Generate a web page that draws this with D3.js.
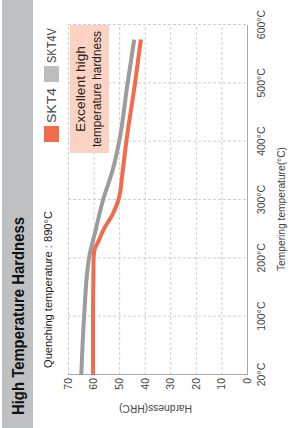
<!DOCTYPE html>
<html>
<head>
<meta charset="utf-8">
<script src="https://cdn.jsdelivr.net/npm/d3@7"></script>
<style>
  body { margin: 0; background: #fff; }
  svg { display: block; font-family: "Liberation Sans", Arial, sans-serif; }
</style>
</head>
<body>
<div id="chart"></div>
<script>
// values
var temps = [20, 100, 200, 300, 400, 500, 600];
var hardTicks = [0, 10, 20, 30, 40, 50, 60, 70];
var skt4Temp = [20, 100, 200, 215, 230, 250, 275, 300, 350, 400, 500, 575];
var skt4Hrc = [60.2, 60.2, 60, 59.6, 58, 56, 52.6, 50.3, 48.6, 47.2, 43.8, 41.5];
var skt4vTemp = [20, 100, 200, 250, 300, 350, 400, 500, 575];
var skt4vHrc = [64.8, 63.7, 61.8, 59.1, 56.3, 52.6, 50, 46.7, 44.1];
var seriesNames = ["SKT4", "SKT4V"];
var seriesColors = ["#f26b4b", "#9c9c9c"];
var legendColors = ["#f26b4b", "#bdbdbd"];

var W = 428, H = 291; // chart drawn sideways, then turned
var plotLeft = 53, plotRight = 403, plotTop = 68, plotBottom = 247;

var svg = d3.select("#chart").append("svg")
    .attr("width", H)
    .attr("height", W);

var g = svg.append("g")
    .attr("transform", "translate(0," + W + ") rotate(-90)");

// title band
g.append("rect")
    .attr("x", 0).attr("y", 2)
    .attr("width", W).attr("height", 31)
    .attr("fill", "#bfc0c2");

g.append("text")
    .attr("x", 13).attr("y", 24)
    .attr("font-size", 16).attr("font-weight", "bold")
    .attr("fill", "#111")
    .attr("textLength", 198).attr("lengthAdjust", "spacingAndGlyphs")
    .text("High Temperature Hardness");

g.append("text")
    .attr("x", 60).attr("y", 51.5)
    .attr("font-size", 11).attr("fill", "#222")
    .attr("textLength", 157).attr("lengthAdjust", "spacingAndGlyphs")
    .text("Quenching temperature : 890°C");

// scales: temperature steps are evenly spaced
var step = (plotRight - plotLeft) / (temps.length - 1);
var x = d3.scaleLinear()
    .domain(temps)
    .range(temps.map(function (d, i) { return plotLeft + i * step; }));
var y = d3.scaleLinear().domain([0, 70]).range([plotBottom, plotTop]);

// grid
var grid = g.append("g")
    .attr("stroke", "#cfcfcf")
    .attr("stroke-dasharray", "3,2")
    .attr("stroke-width", 1);

grid.selectAll("line.h").data(hardTicks.filter(function (d) { return d > 0; }))
    .enter().append("line")
    .attr("class", "h")
    .attr("x1", plotLeft).attr("x2", plotRight)
    .attr("y1", function (d) { return y(d) + 0.5; })
    .attr("y2", function (d) { return y(d) + 0.5; });

grid.selectAll("line.v").data(temps.slice(1))
    .enter().append("line")
    .attr("class", "v")
    .attr("x1", function (d) { return x(d) + 0.5; })
    .attr("x2", function (d) { return x(d) + 0.5; })
    .attr("y1", plotTop).attr("y2", plotBottom);

// annotation box
g.append("rect")
    .attr("x", 275).attr("y", 70)
    .attr("width", 128).attr("height", 39)
    .attr("fill", "#fcd2c2");

g.append("text")
    .attr("x", 339).attr("y", 85)
    .attr("text-anchor", "middle")
    .attr("font-size", 12.5).attr("fill", "#222")
    .attr("textLength", 86).attr("lengthAdjust", "spacingAndGlyphs")
    .text("Excellent high");
g.append("text")
    .attr("x", 339).attr("y", 101)
    .attr("text-anchor", "middle")
    .attr("font-size", 12.5).attr("fill", "#222")
    .attr("textLength", 116).attr("lengthAdjust", "spacingAndGlyphs")
    .text("temperature hardness");

// axis lines
g.append("line")
    .attr("x1", plotLeft + 0.5).attr("x2", plotLeft + 0.5)
    .attr("y1", plotTop).attr("y2", plotBottom + 0.5)
    .attr("stroke", "#a8a8a8");
g.append("line")
    .attr("x1", plotLeft).attr("x2", plotRight)
    .attr("y1", plotBottom + 0.5).attr("y2", plotBottom + 0.5)
    .attr("stroke", "#a8a8a8");

// tick labels
var xAxis = g.append("g")
    .attr("transform", "translate(0," + plotBottom + ")")
    .call(d3.axisBottom(x).tickValues(temps).tickSize(0).tickPadding(11)
        .tickFormat(function (d) { return d + "°C"; }));
var yAxis = g.append("g")
    .attr("transform", "translate(" + plotLeft + ",0)")
    .call(d3.axisLeft(y).tickValues(hardTicks).tickSize(0).tickPadding(3));

[xAxis, yAxis].forEach(function (a) {
    a.select(".domain").remove();
    a.selectAll("text")
        .attr("font-family", "'Liberation Sans', Arial, sans-serif")
        .attr("font-size", 10.5)
        .attr("fill", "#444");
});

// axis titles
g.append("text")
    .attr("transform", "translate(23,155.5) rotate(-90)")
    .attr("text-anchor", "middle")
    .attr("font-size", 11).attr("fill", "#444")
    .attr("textLength", 73).attr("lengthAdjust", "spacingAndGlyphs")
    .text("Hardness(HRC)");

g.append("text")
    .attr("x", 219).attr("y", 285)
    .attr("text-anchor", "middle")
    .attr("font-size", 11).attr("fill", "#444")
    .attr("textLength", 124).attr("lengthAdjust", "spacingAndGlyphs")
    .text("Tempering temperature(°C)");

// curves
var line = d3.line()
    .x(function (d) { return x(d[0]); })
    .y(function (d) { return y(d[1]); })
    .curve(d3.curveMonotoneX);

var series = [
    d3.zip(skt4vTemp, skt4vHrc),
    d3.zip(skt4Temp, skt4Hrc)
];
var seriesColorOrder = [seriesColors[1], seriesColors[0]];

g.selectAll("path.curve").data(series).enter().append("path")
    .attr("class", "curve")
    .attr("d", line)
    .attr("fill", "none")
    .attr("stroke", function (d, i) { return seriesColorOrder[i]; })
    .attr("stroke-width", 4);

// legend
var legendX = [286, 346];
var legend = g.selectAll("g.legend").data(seriesNames).enter().append("g")
    .attr("class", "legend")
    .attr("transform", function (d, i) { return "translate(" + legendX[i] + ",44)"; });

legend.append("rect")
    .attr("width", 16).attr("height", 15)
    .attr("fill", function (d, i) { return legendColors[i]; });

legend.append("text")
    .attr("x", function (d, i) { return i === 0 ? 19 : 19; })
    .attr("y", 12)
    .attr("font-size", 13.5).attr("fill", "#444")
    .attr("textLength", 35).attr("lengthAdjust", "spacingAndGlyphs")
    .text(function (d) { return d; });
</script>
</body>
</html>
